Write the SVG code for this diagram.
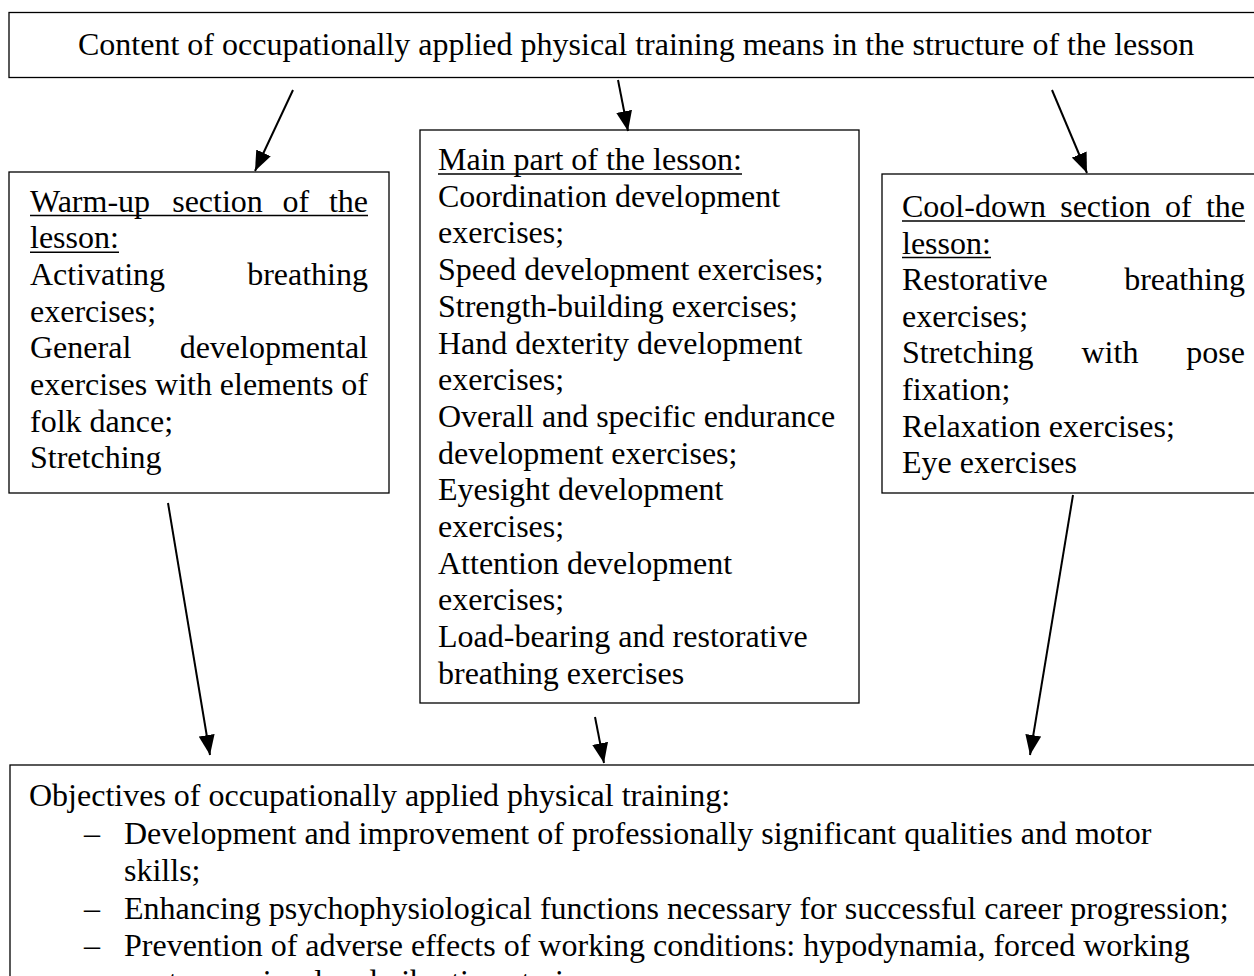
<svg xmlns="http://www.w3.org/2000/svg" width="1254" height="976" viewBox="0 0 1254 976">
<style>
text{font-family:"Liberation Serif","Times New Roman",serif;font-size:32px;fill:#000}
.box{fill:#fff;stroke:#000;stroke-width:1.3}
.ul{stroke:#000;stroke-width:1.5}
.con{stroke:#000;stroke-width:2;fill:none;marker-end:url(#ah)}
</style>
<defs>
<marker id="ah" viewBox="0 0 20 16" refX="20" refY="8" markerWidth="20" markerHeight="16" markerUnits="userSpaceOnUse" orient="auto">
<path d="M0,0 L20,8 L0,16 z" fill="#000"/>
</marker>
</defs>
<rect width="1254" height="976" fill="#fff"/>
<g id="title">
<rect class="box" x="9" y="12.5" width="1260" height="65"/>
<text x="78" y="55">Content of occupationally applied physical training means in the structure of the lesson</text>
</g>
<g id="warmup">
<rect class="box" x="9" y="172" width="380" height="321"/>
<text x="30" y="211.5">Warm-up</text>
<text x="172.2" y="211.5">section</text>
<text x="282.5" y="211.5">of</text>
<text x="368" y="211.5" text-anchor="end">the</text>
<line class="ul" x1="30" y1="215.5" x2="368" y2="215.5"/>
<text x="30" y="248.2">lesson:</text>
<line class="ul" x1="30" y1="252.2" x2="119" y2="252.2"/>
<text x="30" y="284.9">Activating</text>
<text x="368" y="284.9" text-anchor="end">breathing</text>
<text x="30" y="321.6">exercises;</text>
<text x="30" y="358.3">General</text>
<text x="368" y="358.3" text-anchor="end">developmental</text>
<text x="30" y="395">exercises</text>
<text x="155.1" y="395">with</text>
<text x="219.8" y="395">elements</text>
<text x="368" y="395" text-anchor="end">of</text>
<text x="30" y="431.7">folk dance;</text>
<text x="30" y="468.4">Stretching</text>
</g>
<g id="main">
<rect class="box" x="420" y="130" width="439" height="573"/>
<text x="438" y="170">Main part of the lesson:</text>
<line class="ul" x1="438" y1="174" x2="742" y2="174"/>
<text x="438" y="206.7">Coordination development</text>
<text x="438" y="243.4">exercises;</text>
<text x="438" y="280.1">Speed development exercises;</text>
<text x="438" y="316.8">Strength-building exercises;</text>
<text x="438" y="353.5">Hand dexterity development</text>
<text x="438" y="390.2">exercises;</text>
<text x="438" y="426.9">Overall and specific endurance</text>
<text x="438" y="463.6">development exercises;</text>
<text x="438" y="500.3">Eyesight development</text>
<text x="438" y="537">exercises;</text>
<text x="438" y="573.7">Attention development</text>
<text x="438" y="610.4">exercises;</text>
<text x="438" y="647.1">Load-bearing and restorative</text>
<text x="438" y="683.8">breathing exercises</text>
</g>
<g id="cooldown">
<rect class="box" x="882" y="174" width="390" height="319"/>
<text x="902" y="217">Cool-down</text>
<text x="1060.2" y="217">section</text>
<text x="1165.1" y="217">of</text>
<text x="1245" y="217" text-anchor="end">the</text>
<line class="ul" x1="902" y1="221" x2="1245" y2="221"/>
<text x="902" y="253.6">lesson:</text>
<line class="ul" x1="902" y1="257.6" x2="991" y2="257.6"/>
<text x="902" y="290.2">Restorative</text>
<text x="1245" y="290.2" text-anchor="end">breathing</text>
<text x="902" y="326.8">exercises;</text>
<text x="902" y="363.4">Stretching</text>
<text x="1081.5" y="363.4">with</text>
<text x="1245" y="363.4" text-anchor="end">pose</text>
<text x="902" y="400">fixation;</text>
<text x="902" y="436.6">Relaxation exercises;</text>
<text x="902" y="473.2">Eye exercises</text>
</g>
<g id="objectives">
<rect class="box" x="10" y="765" width="1260" height="230"/>
<text x="29" y="806">Objectives of occupationally applied physical training:</text>
<text x="84" y="843.5">–</text>
<text x="124" y="843.5">Development and improvement of professionally significant qualities and motor</text>
<text x="124" y="881">skills;</text>
<text x="84" y="918.5">–</text>
<text x="124" y="918.5">Enhancing psychophysiological functions necessary for successful career progression;</text>
<text x="84" y="956">–</text>
<text x="124" y="956">Prevention of adverse effects of working conditions: hypodynamia, forced working</text>
<text x="124" y="992">postures, visual and vibration strain</text>
</g>
<g id="connectors">
<line class="con" x1="293" y1="90" x2="255" y2="171"/>
<line class="con" x1="618" y1="80" x2="628" y2="131"/>
<line class="con" x1="1052" y1="90" x2="1087" y2="173"/>
<line class="con" x1="168" y1="503" x2="210" y2="755"/>
<line class="con" x1="595" y1="717" x2="604" y2="763"/>
<line class="con" x1="1073" y1="495" x2="1030" y2="755"/>
</g>
</svg>
